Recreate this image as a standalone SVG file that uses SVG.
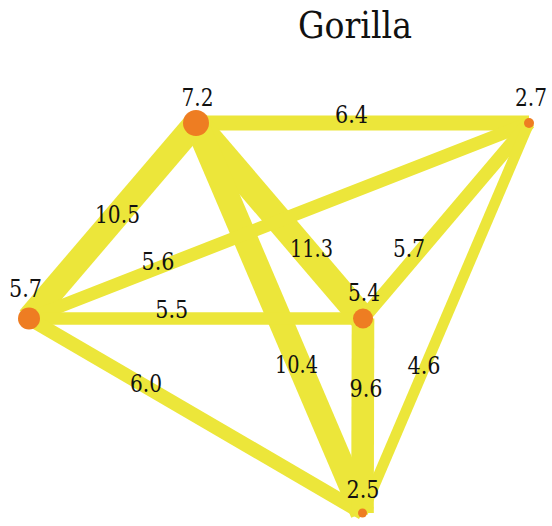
<svg xmlns="http://www.w3.org/2000/svg" width="552" height="526" viewBox="0 0 552 526">
<style>
text{font-family:"DejaVu Serif",serif;fill:#111;text-anchor:middle}
.lbl{font-size:24px}
.title{font-size:38px}
.e{stroke:#ECE63A;stroke-linecap:butt;fill:none}
.n{fill:#EE7D22}
</style>
<rect width="552" height="526" fill="#fff"/>
<text class="title" x="355" y="38" textLength="114" lengthAdjust="spacingAndGlyphs">Gorilla</text>
<g id="edges">
<line class="e" x1="196" y1="123" x2="529" y2="123" stroke-width="15"/>
<line class="e" x1="196" y1="123" x2="29" y2="318.5" stroke-width="24.7"/>
<line class="e" x1="196" y1="123" x2="363" y2="318.5" stroke-width="26.5"/>
<line class="e" x1="196" y1="123" x2="362.5" y2="513" stroke-width="24.4"/>
<line class="e" x1="529" y1="123" x2="29" y2="318.5" stroke-width="13"/>
<line class="e" x1="529" y1="123" x2="363" y2="318.5" stroke-width="13.4"/>
<line class="e" x1="529" y1="123" x2="362.5" y2="513" stroke-width="10.8"/>
<line class="e" x1="29" y1="318.5" x2="363" y2="318.5" stroke-width="12.5"/>
<line class="e" x1="29" y1="318.5" x2="362.5" y2="513" stroke-width="14"/>
<line class="e" x1="363" y1="318.5" x2="362.5" y2="513" stroke-width="22.6"/>
<text class="lbl" x="351.5" y="123" textLength="33" lengthAdjust="spacingAndGlyphs">6.4</text>
<text class="lbl" x="117.5" y="223" textLength="45" lengthAdjust="spacingAndGlyphs">10.5</text>
<text class="lbl" x="311.5" y="257" textLength="43" lengthAdjust="spacingAndGlyphs">11.3</text>
<text class="lbl" x="296.5" y="373" textLength="43" lengthAdjust="spacingAndGlyphs">10.4</text>
<text class="lbl" x="158" y="270" textLength="33" lengthAdjust="spacingAndGlyphs">5.6</text>
<text class="lbl" x="409" y="257" textLength="32" lengthAdjust="spacingAndGlyphs">5.7</text>
<text class="lbl" x="424" y="374" textLength="33" lengthAdjust="spacingAndGlyphs">4.6</text>
<text class="lbl" x="171.7" y="318" textLength="33" lengthAdjust="spacingAndGlyphs">5.5</text>
<text class="lbl" x="146" y="392" textLength="32" lengthAdjust="spacingAndGlyphs">6.0</text>
<text class="lbl" x="366" y="397" textLength="33" lengthAdjust="spacingAndGlyphs">9.6</text>
</g>
<g id="nodeA"><circle class="n" cx="196" cy="123" r="13"/><text class="lbl" x="197.5" y="106" textLength="32" lengthAdjust="spacingAndGlyphs">7.2</text></g>
<g id="nodeB"><circle class="n" cx="529" cy="123" r="5"/><text class="lbl" x="531" y="106" textLength="32" lengthAdjust="spacingAndGlyphs">2.7</text></g>
<g id="nodeC"><circle class="n" cx="29" cy="318.5" r="11"/><text class="lbl" x="25.5" y="297" textLength="33" lengthAdjust="spacingAndGlyphs">5.7</text></g>
<g id="nodeD"><circle class="n" cx="363" cy="318.5" r="10"/><text class="lbl" x="364" y="301" textLength="32" lengthAdjust="spacingAndGlyphs">5.4</text></g>
<g id="nodeE"><circle class="n" cx="362.5" cy="513" r="4.5"/><text class="lbl" x="363" y="498" textLength="33" lengthAdjust="spacingAndGlyphs">2.5</text></g>
</svg>
